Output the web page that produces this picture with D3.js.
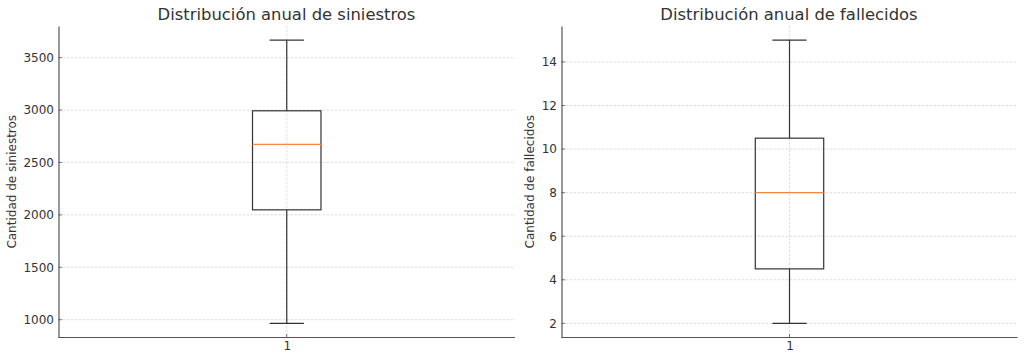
<!DOCTYPE html>
<html>
<head>
<meta charset="utf-8">
<script src="https://cdn.jsdelivr.net/npm/d3@7"></script>
<style>
  html, body { margin: 0; padding: 0; background: #fff; }
  svg { display: block; font-family: "DejaVu Sans", sans-serif; }
</style>
</head>
<body>
<svg id="chart" width="1024" height="361"></svg>
<script>
// Data
const panelTitles = ["Distribución anual de siniestros", "Distribución anual de fallecidos"];
const yLabels = ["Cantidad de siniestros", "Cantidad de fallecidos"];
const categories = ["1"];
// five-number summaries: [min whisker, Q1, median, Q3, max whisker]
const siniestrosStats = [965, 2048, 2673, 2993, 3667];
const fallecidosStats = [2, 4.5, 8, 10.5, 15];
const siniestrosTicks = [1000, 1500, 2000, 2500, 3000, 3500];
const fallecidosTicks = [2, 4, 6, 8, 10, 12, 14];

const svg = d3.select("#chart");

const panels = [
  { left: 58.5, right: 515, stats: siniestrosStats, ticks: siniestrosTicks, title: panelTitles[0], ylabel: yLabels[0], ylabelX: 12, titleX: 286.5 },
  { left: 561.5, right: 1017.5, stats: fallecidosStats, ticks: fallecidosTicks, title: panelTitles[1], ylabel: yLabels[1], ylabelX: 530, titleX: 789 }
];
const plotTop = 26, plotBottom = 337.5;
const axisColor = "#555";
const textColor = "#333";

panels.forEach(p => {
  const g = svg.append("g");
  const lo = d3.min(p.stats), hi = d3.max(p.stats);
  const pad = (hi - lo) * 0.05;
  const y = d3.scaleLinear().domain([lo - pad, hi + pad]).range([plotBottom, plotTop]);
  const x = d3.scalePoint().domain(categories).range([p.left, p.right]).padding(0.5);
  const unit = (p.right - p.left); // one category unit
  const boxW = unit * 0.15;
  const cx = x(categories[0]);

  // grid
  g.append("g").selectAll("line").data(p.ticks).join("line")
    .attr("x1", p.left).attr("x2", p.right)
    .attr("y1", d => y(d)).attr("y2", d => y(d))
    .attr("stroke", "#d4d4d4").attr("stroke-width", 0.8).attr("stroke-dasharray", "2.5,1.5");
  g.append("line")
    .attr("x1", cx).attr("x2", cx).attr("y1", plotTop).attr("y2", plotBottom)
    .attr("stroke", "#d4d4d4").attr("stroke-width", 0.8).attr("stroke-dasharray", "2.5,1.5");

  // y axis
  const yAxis = d3.axisLeft(y).tickValues(p.ticks).tickSize(0).tickPadding(4.5).tickFormat(d3.format("d"));
  const ya = g.append("g").attr("transform", `translate(${p.left},0)`).call(yAxis);
  ya.select(".domain").attr("stroke", axisColor).attr("stroke-width", 1.2);
  ya.selectAll("text").attr("fill", textColor).attr("font-size", 12).attr("font-family", "DejaVu Sans");
  // inward tick marks
  g.append("g").selectAll("line").data(p.ticks).join("line")
    .attr("x1", p.left).attr("x2", p.left + 3.5)
    .attr("y1", d => y(d)).attr("y2", d => y(d))
    .attr("stroke", axisColor).attr("stroke-width", 0.8);

  // x axis
  const xAxis = d3.axisBottom(x).tickSize(0).tickPadding(4);
  const xa = g.append("g").attr("transform", `translate(0,${plotBottom})`).call(xAxis);
  xa.select(".domain").attr("stroke", axisColor).attr("stroke-width", 1.2)
    .attr("d", `M${p.left},0H${p.right}`);
  xa.selectAll("text").attr("fill", textColor).attr("font-size", 12).attr("font-family", "DejaVu Sans");
  g.append("line").attr("x1", cx).attr("x2", cx).attr("y1", plotBottom).attr("y2", plotBottom - 3.5)
    .attr("stroke", axisColor).attr("stroke-width", 0.8);

  // box plot
  const [mn, q1, med, q3, mx] = p.stats;
  const stroke = "#333";
  const bx = g.append("g");
  bx.append("line").attr("x1", cx).attr("x2", cx).attr("y1", y(q3)).attr("y2", y(mx)).attr("stroke", stroke).attr("stroke-width", 1.2);
  bx.append("line").attr("x1", cx).attr("x2", cx).attr("y1", y(q1)).attr("y2", y(mn)).attr("stroke", stroke).attr("stroke-width", 1.2);
  bx.append("line").attr("x1", cx - boxW / 4).attr("x2", cx + boxW / 4).attr("y1", y(mx)).attr("y2", y(mx)).attr("stroke", stroke).attr("stroke-width", 1.2);
  bx.append("line").attr("x1", cx - boxW / 4).attr("x2", cx + boxW / 4).attr("y1", y(mn)).attr("y2", y(mn)).attr("stroke", stroke).attr("stroke-width", 1.2);
  bx.append("rect").attr("x", cx - boxW / 2).attr("y", y(q3)).attr("width", boxW).attr("height", y(q1) - y(q3))
    .attr("fill", "none").attr("stroke", stroke).attr("stroke-width", 1.2);
  bx.append("line").attr("x1", cx - boxW / 2).attr("x2", cx + boxW / 2).attr("y1", y(med)).attr("y2", y(med))
    .attr("stroke", "#f7863f").attr("stroke-width", 1.2);

  // title
  g.append("text").attr("x", p.titleX).attr("y", 20).attr("text-anchor", "middle")
    .attr("font-size", 16.4).attr("fill", textColor).text(p.title);
  // y label
  g.append("text").attr("transform", `translate(${p.ylabelX},${(plotTop + plotBottom) / 2}) rotate(-90)`)
    .attr("text-anchor", "middle").attr("dominant-baseline", "central")
    .attr("font-size", 12).attr("fill", textColor).text(p.ylabel);
});
</script>
</body>
</html>
